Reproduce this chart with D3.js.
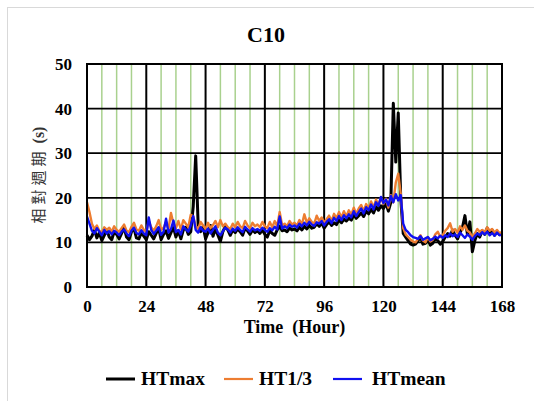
<!DOCTYPE html>
<html>
<head>
<meta charset="utf-8">
<script src="https://cdn.jsdelivr.net/npm/d3@7"></script>
<style>
  body { margin: 0; background: #fff; }
  svg { display: block; }
</style>
</head>
<body>
<div id="chart"></div>
<script>
// hourly values, t = 0 .. 168
const hours = d3.range(0, 169);

const htMax = [
  11.6, 10.6, 11.4, 12.8, 11.0, 12.2, 10.4, 11.6, 12.8, 11.2, 10.6, 12.4,
  11.8, 10.8, 12.0, 13.4, 11.2, 10.6, 12.4, 13.2, 11.0, 10.8, 12.2, 11.4,
  10.6, 12.4, 11.6, 10.8, 12.0, 13.2, 10.6, 11.8, 12.6, 10.9, 12.2, 13.4,
  11.2, 12.6, 10.8, 12.8, 13.4, 11.8, 12.4, 18.0, 29.4, 14.0, 12.4, 13.6,
  10.8, 12.2, 13.8, 11.4, 13.0, 11.6, 10.2, 12.4, 13.6, 12.8, 11.6, 12.8,
  12.2, 13.0, 12.4, 11.6, 13.2, 12.6, 11.8, 12.8, 12.2, 12.6, 12.0, 12.8,
  11.8, 11.2, 12.6, 12.0, 11.6, 12.8, 13.6, 12.6, 12.8, 12.4, 13.2, 12.8,
  13.0, 12.6, 13.4, 12.8, 13.6, 13.0, 13.8, 13.2, 13.4, 14.2, 13.6, 14.4,
  13.2, 14.0, 14.6, 13.8, 14.4, 14.0, 15.0, 14.4, 15.2, 14.8, 15.4, 15.0,
  16.2, 15.4, 16.0, 16.6, 15.8, 17.0, 16.4, 17.4, 16.6, 18.0, 17.2, 18.2,
  17.6, 18.8, 17.0, 19.0, 41.2, 28.0, 39.0, 20.0, 12.0, 11.2, 10.4, 9.6,
  9.4, 9.6, 10.4, 11.2, 9.6, 9.8, 10.6, 9.4, 9.8, 10.8, 10.4, 9.6,
  10.2, 11.2, 12.0, 11.4, 12.8, 11.6, 10.8, 12.2, 13.4, 16.0, 11.8, 14.6,
  7.9, 10.4, 12.0, 11.2, 12.6, 11.8, 13.2, 12.0, 12.8, 11.6, 12.4, 11.8,
  12.0
];

const htThird = [
  19.0, 16.8, 14.2, 13.0, 13.8, 12.6, 12.2, 13.4, 12.8, 13.3, 12.4, 13.6,
  12.8, 12.4, 13.2, 14.0, 12.6, 12.3, 13.5, 14.4, 12.9, 12.6, 13.8, 12.8,
  12.4, 14.8, 13.4, 12.6, 13.6, 15.0, 12.8, 13.3, 14.6, 13.0, 16.6, 14.2,
  13.2, 14.8, 12.9, 15.0, 14.2, 13.4, 16.2, 15.8, 13.6, 13.0, 14.6, 13.8,
  13.0, 14.4, 13.2, 13.9, 14.8, 13.4, 15.0, 13.6, 14.2, 13.4, 13.0, 14.2,
  13.4, 14.6, 13.6, 13.2, 14.8, 13.8, 13.2, 14.4, 13.6, 14.0, 13.4, 14.6,
  13.6, 13.2, 14.6, 13.4, 14.8, 13.6, 16.8, 13.8, 14.2, 13.6, 14.8, 14.0,
  14.4, 13.8, 15.0, 14.0, 16.3, 14.4, 15.4, 14.6, 14.2, 16.0, 14.8, 15.6,
  14.4, 15.2, 16.0, 14.8, 16.4, 15.4, 16.8, 15.6, 17.0, 15.8, 17.2, 16.2,
  17.8, 16.4, 17.6, 18.4, 17.0, 18.6, 17.6, 19.2, 17.8, 19.6, 18.4, 20.0,
  18.6, 19.8, 17.8, 20.6, 19.0, 23.4, 25.4, 21.0, 13.2, 11.8, 11.2, 10.6,
  10.2, 10.0, 10.8, 11.6, 10.4, 10.0, 11.2, 10.2, 10.6, 11.8, 12.4, 11.2,
  11.6, 12.6, 13.2, 14.3, 12.4, 13.0, 12.2, 13.6, 12.8, 13.8, 12.6, 12.2,
  11.2, 12.0, 13.0, 12.4, 12.8, 12.2, 13.4, 12.6, 13.0, 12.2, 12.8, 12.0,
  12.4
];

const htMean = [
  15.8, 14.2, 12.6, 12.0, 13.2, 12.4, 11.6, 12.8, 12.0, 12.5, 11.8, 12.6,
  12.2, 11.6, 12.4, 12.9, 12.0, 11.4, 12.6, 13.3, 12.1, 11.8, 12.7, 12.0,
  11.6, 15.6, 12.8, 11.9, 12.6, 13.4, 11.7, 12.4, 15.3, 12.2, 13.0, 14.9,
  12.3, 12.8, 11.8, 13.6, 12.9, 12.4, 13.8, 15.9, 12.8, 12.2, 13.4, 12.6,
  12.4, 13.1, 12.0, 12.8, 13.6, 12.2, 11.6, 12.5, 13.3, 12.9, 12.2, 13.1,
  12.6, 13.4, 12.8, 12.3, 13.5, 12.9, 12.4, 13.2, 12.7, 13.0, 12.6, 13.3,
  12.8, 12.4, 13.2, 12.7, 13.5, 12.9, 15.8, 13.1, 13.6, 13.2, 14.0, 13.5,
  13.8, 13.3, 14.2, 13.6, 14.4, 13.8, 14.6, 14.0, 13.7, 14.5, 14.2, 14.8,
  13.8, 14.6, 15.2, 14.3, 15.5, 14.8, 15.9, 15.0, 16.1, 15.4, 16.3, 15.6,
  17.0, 15.9, 16.8, 17.6, 16.5, 17.9, 17.2, 18.5, 17.4, 19.0, 18.2, 20.2,
  18.8, 19.6, 18.3, 20.4, 19.0, 20.8, 19.4, 20.6, 14.2, 12.8, 12.3, 11.6,
  11.2, 11.0, 10.8, 11.4, 10.6, 10.9, 11.2, 10.5, 10.8, 11.3, 10.9, 11.5,
  11.0, 11.6, 11.2, 12.0, 11.4, 11.8, 11.2, 12.2, 11.6, 11.0, 11.8, 11.3,
  10.6, 11.4, 12.0, 11.6, 12.3, 11.8, 12.4, 11.6, 12.1, 11.5, 12.2, 11.6,
  11.8
];

const seriesNames = ["HTmax", "HT1/3", "HTmean"];
const seriesValues = [htMax, htThird, htMean];
const seriesColors = ["#000000", "#ED7D31", "#1010F0"];
const seriesWidths = [3, 2.4, 2.4];

const xTicks = [0, 24, 48, 72, 96, 120, 144, 168];
const yTicks = [0, 10, 20, 30, 40, 50];
const minorHours = d3.range(0, 169, 6).filter(h => h % 24 !== 0);

const width = 534, height = 401;
const serif = "'Liberation Serif', 'Times New Roman', serif";

const x = d3.scaleLinear().domain([0, 168]).range([87, 502]);
const y = d3.scaleLinear().domain([0, 50]).range([287, 64]);

const svg = d3.select("#chart").append("svg")
  .attr("width", width)
  .attr("height", height);

// outer chart border
svg.append("rect")
  .attr("x", 7.5).attr("y", 7.5)
  .attr("width", width).attr("height", height)
  .attr("fill", "#fff")
  .attr("stroke", "#d9d9d9");

// title
svg.append("text")
  .attr("x", 266).attr("y", 42)
  .attr("text-anchor", "middle")
  .attr("font-family", serif)
  .attr("font-weight", "bold")
  .attr("font-size", 22)
  .text("C10");

// minor vertical grid (green)
svg.append("g").selectAll("line")
  .data(minorHours)
  .join("line")
  .attr("x1", d => x(d)).attr("x2", d => x(d))
  .attr("y1", y(50)).attr("y2", y(0))
  .attr("stroke", "#A9D18E")
  .attr("stroke-width", 1.5);

// major grid
svg.append("g").selectAll("line")
  .data(xTicks)
  .join("line")
  .attr("x1", d => x(d)).attr("x2", d => x(d))
  .attr("y1", y(50)).attr("y2", y(0))
  .attr("stroke", "#000")
  .attr("stroke-width", 2);

svg.append("g").selectAll("line")
  .data(yTicks)
  .join("line")
  .attr("x1", x(0)).attr("x2", x(168))
  .attr("y1", d => y(d)).attr("y2", d => y(d))
  .attr("stroke", "#000")
  .attr("stroke-width", 1.8);

// series
const line = d3.line()
  .x((d, i) => x(hours[i]))
  .y(d => y(d));

seriesValues.forEach((vals, i) => {
  svg.append("path")
    .datum(vals)
    .attr("fill", "none")
    .attr("stroke", seriesColors[i])
    .attr("stroke-width", seriesWidths[i])
    .attr("stroke-linejoin", "round")
    .attr("d", line);
});

// frame
svg.append("rect")
  .attr("x", x(0)).attr("y", y(50))
  .attr("width", x(168) - x(0)).attr("height", y(0) - y(50))
  .attr("fill", "none")
  .attr("stroke", "#000")
  .attr("stroke-width", 2);

// axes (labels only)
const xAxis = svg.append("g")
  .attr("transform", `translate(0,${y(0)})`)
  .call(d3.axisBottom(x).tickValues(xTicks).tickSize(0).tickPadding(13));
const yAxis = svg.append("g")
  .attr("transform", `translate(${x(0)},0)`)
  .call(d3.axisLeft(y).tickValues(yTicks).tickSize(0).tickPadding(15));

[xAxis, yAxis].forEach(g => {
  g.select(".domain").remove();
  g.selectAll("text")
    .attr("font-family", serif)
    .attr("font-weight", "bold")
    .attr("font-size", 17)
    .attr("fill", "#000");
});

// axis titles
svg.append("text")
  .attr("x", (x(0) + x(168)) / 2).attr("y", 333)
  .attr("text-anchor", "middle")
  .attr("font-family", serif)
  .attr("font-weight", "bold")
  .attr("font-size", 18)
  .attr("xml:space", "preserve")
  .text("Time  (Hour)");

const yTitle = svg.append("text")
  .attr("transform", "translate(44,175) rotate(-90)")
  .attr("text-anchor", "middle")
  .attr("font-size", 15)
  .attr("fill", "#333");
yTitle.append("tspan")
  .attr("font-family", "'Noto Sans CJK TC', sans-serif")
  .attr("letter-spacing", 4)
  .text("相對週期");
yTitle.append("tspan")
  .attr("font-family", serif)
  .attr("font-weight", "bold")
  .attr("font-size", 16)
  .text(" (s)");

// legend
const legendX = [106, 224, 333];
const lg = svg.append("g").selectAll("g")
  .data(seriesNames)
  .join("g")
  .attr("transform", (d, i) => `translate(${legendX[i]},379)`);

lg.append("line")
  .attr("x1", 0).attr("x2", 29)
  .attr("stroke", (d, i) => seriesColors[i])
  .attr("stroke-width", (d, i) => i === 0 ? 3 : 2.2);

lg.append("text")
  .attr("x", (d, i) => i === 2 ? 39 : 35)
  .attr("y", 6)
  .attr("font-family", serif)
  .attr("font-weight", "bold")
  .attr("font-size", 19.5)
  .text(d => d);
</script>
</body>
</html>
